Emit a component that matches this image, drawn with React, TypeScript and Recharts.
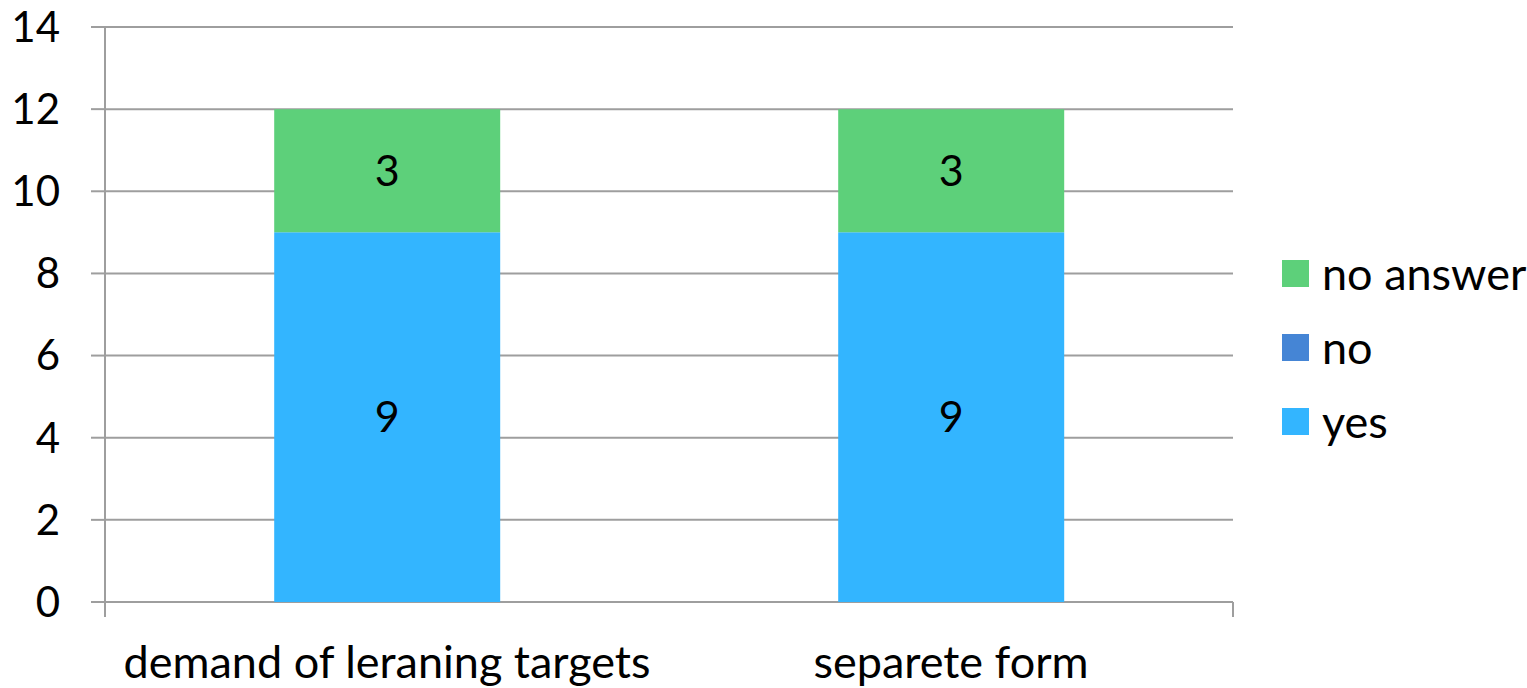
import React from 'react';
import {
  BarChart,
  Bar,
  XAxis,
  YAxis,
  CartesianGrid,
  Legend,
  LabelList
} from 'recharts';

const categories = ['demand of leraning targets', 'separete form'];
const yesValues = [9, 9];
const noValues = [0, 0];
const noAnswerValues = [3, 3];
const yTicks = [0, 2, 4, 6, 8, 10, 12, 14];
const categoryEdges = [0, 1, 2];
const legendOrder = ['no answer', 'no', 'yes'];

const FONT = 'Lato, "Open Sans", sans-serif';
const GRID = '#9e9e9e';

const data = categories.map((name, i) => ({
  name,
  yes: yesValues[i],
  no: noValues[i],
  noAnswer: noAnswerValues[i],
}));

const hideZero = (v: any) => (v ? v : '');

// legend lists the top of the stack first
const StackLegend = ({ payload }: any) => {
  const items = legendOrder
    .map((name) => (payload || []).find((p: any) => p.value === name))
    .filter(Boolean);
  return (
    <div style={{ paddingLeft: 49, paddingTop: 6, fontFamily: FONT }}>
      {items.map((entry: any) => (
        <div
          key={entry.value}
          style={{ display: 'flex', alignItems: 'center', height: 74 }}
        >
          <span
            style={{
              width: 27,
              height: 27,
              background: entry.color,
              marginRight: 13,
              display: 'inline-block',
            }}
          />
          <span style={{ fontSize: 45, color: '#000', lineHeight: '45px' }}>
            {entry.value}
          </span>
        </div>
      ))}
    </div>
  );
};

const App: React.FC = () => {
  return (
    <div style={{ width: 1527, height: 688, background: '#fff' }}>
      <style>{`body{margin:0}`}</style>
      <BarChart
        width={1527}
        height={688}
        data={data}
        margin={{ top: 27, right: 0, bottom: 0, left: 0 }}
        barCategoryGap="30%"
      >
        <CartesianGrid vertical={false} stroke={GRID} strokeWidth={2} />
        <XAxis
          xAxisId="names"
          dataKey="name"
          height={71}
          axisLine={false}
          tickLine={false}
          tickSize={0}
          tickMargin={29}
          tick={{ fontSize: 45, fill: '#000', fontFamily: FONT }}
        />
        {/* numeric axis only used for the tick marks between categories */}
        <XAxis
          xAxisId="bounds"
          type="number"
          domain={[0, 2]}
          ticks={categoryEdges}
          interval={0}
          allowDataOverflow
          height={15}
          tickFormatter={() => ''}
          tickSize={15}
          axisLine={false}
          tickLine={{ stroke: GRID, strokeWidth: 2 }}
        />
        <YAxis
          width={105}
          domain={[0, 14]}
          ticks={yTicks}
          interval={0}
          tickSize={14}
          tickMargin={31}
          axisLine={{ stroke: GRID, strokeWidth: 2 }}
          tickLine={{ stroke: GRID, strokeWidth: 2 }}
          tick={{ fontSize: 42, fill: '#000', fontFamily: FONT }}
        />
        <Legend
          layout="vertical"
          align="right"
          verticalAlign="middle"
          wrapperStyle={{ width: 294, boxSizing: 'border-box' }}
          content={<StackLegend />}
        />
        <Bar xAxisId="names" dataKey="yes" name="yes" stackId="a" fill="#33b5ff" isAnimationActive={false}>
          <LabelList dataKey="yes" position="center" formatter={hideZero} fill="#000" fontSize={43} fontFamily={FONT} />
        </Bar>
        <Bar xAxisId="names" dataKey="no" name="no" stackId="a" fill="#4585d5" isAnimationActive={false}>
          <LabelList dataKey="no" position="center" formatter={hideZero} fill="#000" fontSize={43} fontFamily={FONT} />
        </Bar>
        <Bar xAxisId="names" dataKey="noAnswer" name="no answer" stackId="a" fill="#5dd07a" isAnimationActive={false}>
          <LabelList dataKey="noAnswer" position="center" formatter={hideZero} fill="#000" fontSize={43} fontFamily={FONT} />
        </Bar>
      </BarChart>
    </div>
  );
};

export default App;
